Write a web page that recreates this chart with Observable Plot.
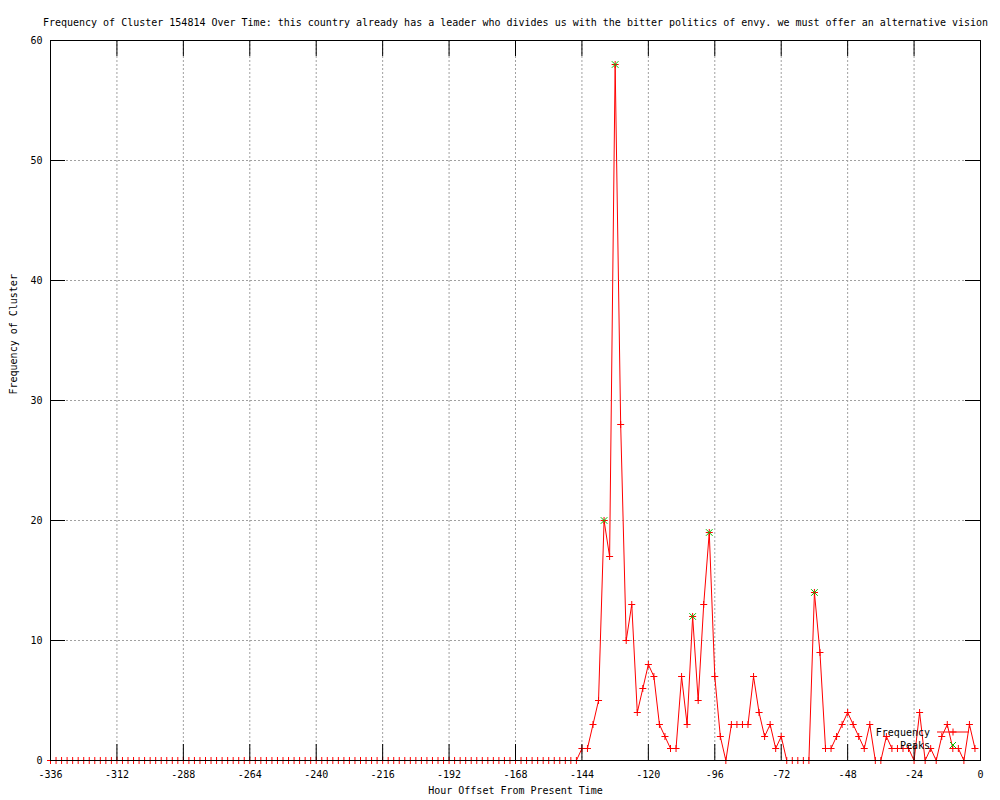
<!DOCTYPE html>
<html><head><meta charset="utf-8">
<script src="https://cdn.jsdelivr.net/npm/d3@7"></script>
<script src="https://cdn.jsdelivr.net/npm/@observablehq/plot@0.6"></script>
<style>body{margin:0;background:#fff}</style>
</head><body><div id="chart"></div>
<script>
const hours = [
  -336,-334,-332,-330,-328,-326,-324,-322,-320,-318,-316,-314,-312,-310,-308,-306,-304,-302,-300,-298,
  -296,-294,-292,-290,-288,-286,-284,-282,-280,-278,-276,-274,-272,-270,-268,-266,-264,-262,-260,-258,
  -256,-254,-252,-250,-248,-246,-244,-242,-240,-238,-236,-234,-232,-230,-228,-226,-224,-222,-220,-218,
  -216,-214,-212,-210,-208,-206,-204,-202,-200,-198,-196,-194,-192,-190,-188,-186,-184,-182,-180,-178,
  -176,-174,-172,-170,-168,-166,-164,-162,-160,-158,-156,-154,-152,-150,-148,-146,-144,-142,-140,-138,
  -136,-134,-132,-130,-128,-126,-124,-122,-120,-118,-116,-114,-112,-110,-108,-106,-104,-102,-100,-98,
  -96,-94,-92,-90,-88,-86,-84,-82,-80,-78,-76,-74,-72,-70,-68,-66,-64,-62,-60,-58,
  -56,-54,-52,-50,-48,-46,-44,-42,-40,-38,-36,-34,-32,-30,-28,-26,-24,-22,-20,-18,
  -16,-14,-12,-10,-8,-6,-4,-2
];
const frequency = [
  0,0,0,0,0,0,0,0,0,0,0,0,0,0,0,0,0,0,0,0,
  0,0,0,0,0,0,0,0,0,0,0,0,0,0,0,0,0,0,0,0,
  0,0,0,0,0,0,0,0,0,0,0,0,0,0,0,0,0,0,0,0,
  0,0,0,0,0,0,0,0,0,0,0,0,0,0,0,0,0,0,0,0,
  0,0,0,0,0,0,0,0,0,0,0,0,0,0,0,0,1,1,3,5,
  20,17,58,28,10,13,4,6,8,7,3,2,1,1,7,3,12,5,13,19,
  7,2,0,3,3,3,3,7,4,2,3,1,2,0,0,0,0,0,14,9,
  1,1,2,3,4,3,2,1,3,0,0,2,1,1,1,1,0,4,0,1,
  0,2,3,1,1,0,3,1
];
const peakHours = [-136, -132, -104, -98, -60];
const peakValues = [20, 58, 12, 19, 14];
const xTicks = [-336,-312,-288,-264,-240,-216,-192,-168,-144,-120,-96,-72,-48,-24,0];
const yTicks = [0,10,20,30,40,50,60];
const title = "Frequency of Cluster 154814 Over Time: this country already has a leader who divides us with the bitter politics of envy. we must offer an alternative vision";
const xLabel = "Hour Offset From Present Time";
const yLabel = "Frequency of Cluster";
const legendLabels = ["Frequency", "Peaks"];

const series = hours.map((h, i) => ({hour: h, value: frequency[i]}));
const peaks = peakHours.map((h, i) => ({hour: h, value: peakValues[i]}));

const RED = "#ff0000", GREEN = "#00c000", GRID = "#a0a0a0";

function legend(index, scales, values, dims) {
  const g = d3.create("svg:g");
  const xr = dims.width - dims.marginRight;
  const yb = dims.height - dims.marginBottom;
  const y1 = yb - 28, y2 = yb - 15;
  g.append("text").attr("x", xr - 50).attr("y", y1).attr("dy", "0.35em")
    .attr("text-anchor", "end").attr("fill", "#000").text(legendLabels[0]);
  g.append("text").attr("x", xr - 50).attr("y", y2).attr("dy", "0.35em")
    .attr("text-anchor", "end").attr("fill", "#000").text(legendLabels[1]);
  g.append("line").attr("x1", xr - 43).attr("x2", xr - 11).attr("y1", y1).attr("y2", y1)
    .attr("stroke", RED);
  const cx = xr - 27;
  g.append("path").attr("d", `M${cx-3.5},${y1}H${cx+3.5}M${cx},${y1-3.5}V${y1+3.5}`)
    .attr("stroke", RED).attr("fill", "none");
  g.append("path").attr("d", `M${cx-3},${y2-3}L${cx+3},${y2+3}M${cx-3},${y2+3}L${cx+3},${y2-3}`)
    .attr("stroke", GREEN).attr("fill", "none");
  return g.node();
}

const chart = Plot.plot({
  width: 1000, height: 800,
  marginLeft: 50, marginRight: 20, marginTop: 40, marginBottom: 40,
  style: {fontFamily: "'DejaVu Sans Mono', monospace", fontSize: "10px", background: "#fff", color: "#000"},
  x: {domain: [-336, 0]},
  y: {domain: [0, 60]},
  marks: [
    Plot.gridX(xTicks, {stroke: GRID, strokeOpacity: 1, strokeDasharray: "2,2"}),
    Plot.gridY(yTicks, {stroke: GRID, strokeOpacity: 1, strokeDasharray: "2,2"}),
    Plot.line(series, {x: "hour", y: "value", stroke: RED, strokeWidth: 1}),
    Plot.dot(series, {x: "hour", y: "value", symbol: "plus", r: 2.4, stroke: RED, strokeWidth: 1}),
    Plot.dot(peaks, {x: "hour", y: "value", symbol: "times", r: 3.1, stroke: GREEN, strokeWidth: 1}),
    Plot.frame({stroke: "#000"}),
    Plot.ruleX(xTicks, {x: d => d, y1: 0, y2: 0, insetTop: -16, stroke: "#000"}),
    Plot.ruleX(xTicks, {x: d => d, y1: 60, y2: 60, insetBottom: -16, stroke: "#000"}),
    Plot.ruleY(yTicks, {y: d => d, x1: -336, x2: -336, insetRight: -15, stroke: "#000"}),
    Plot.ruleY(yTicks, {y: d => d, x1: 0, x2: 0, insetLeft: -15, stroke: "#000"}),
    Plot.axisX(xTicks, {tickSize: 0, tickPadding: 10, label: null, tickFormat: d => String(d)}),
    Plot.axisY(yTicks, {tickSize: 0, tickPadding: 8, label: null, tickFormat: d => String(d)}),
    Plot.text([title], {frameAnchor: "top", dy: -22, fill: "#000"}),
    Plot.text([xLabel], {frameAnchor: "bottom", dy: 33, fill: "#000"}),
    Plot.text([yLabel], {frameAnchor: "left", dx: -37, dy: -6, rotate: -90, fill: "#000"}),
    legend
  ]
});
document.getElementById("chart").append(chart);
</script>
</body></html>
